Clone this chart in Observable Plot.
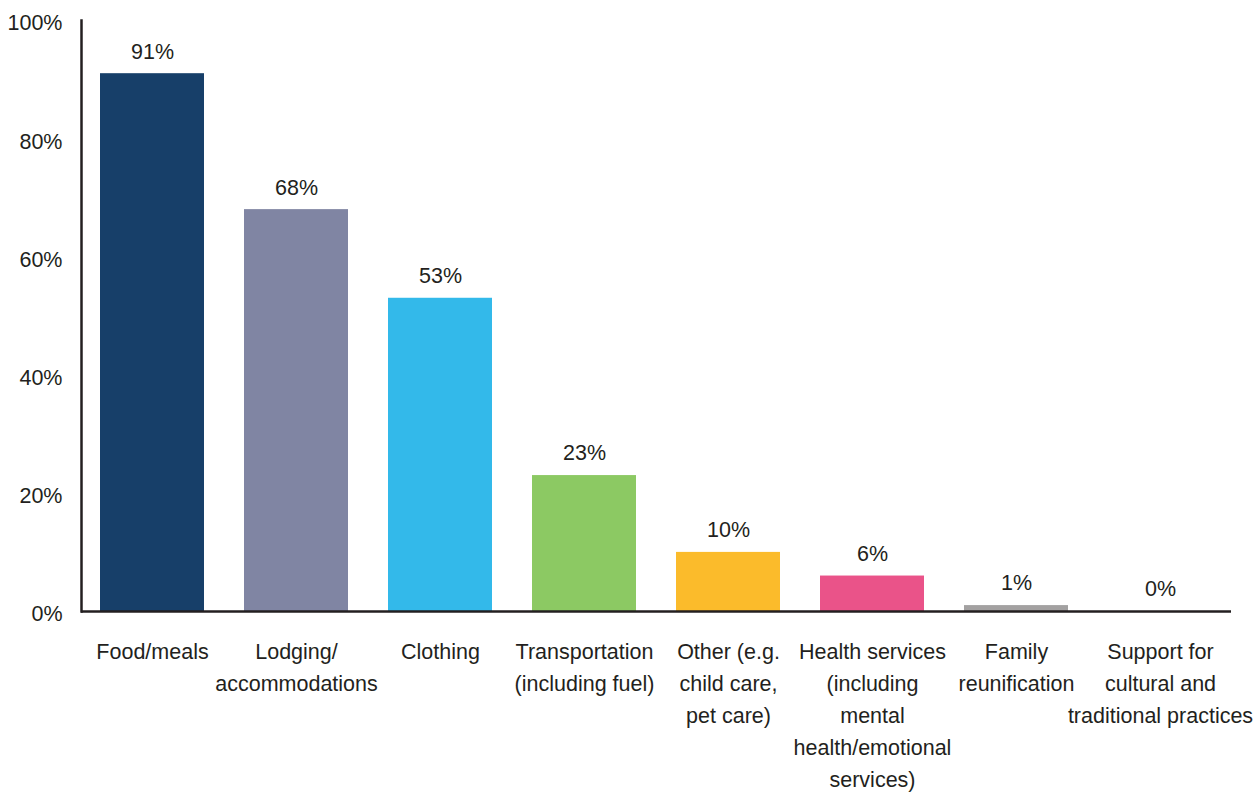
<!DOCTYPE html>
<html>
<head>
<meta charset="utf-8">
<script src="https://cdn.jsdelivr.net/npm/d3@7"></script>
<script src="https://cdn.jsdelivr.net/npm/@observablehq/plot@0.6"></script>
<style>
  html, body { margin: 0; padding: 0; background: #fff; }
  svg { font-family: "Liberation Sans", Arial, sans-serif; }
</style>
</head>
<body>
<div id="chart"></div>
<script>
const categories = [
  "Food/meals",
  "Lodging/accommodations",
  "Clothing",
  "Transportation (including fuel)",
  "Other (e.g. child care, pet care)",
  "Health services (including mental health/emotional services)",
  "Family reunification",
  "Support for cultural and traditional practices"
];
const tickLabels = [
  "Food/meals",
  "Lodging/\naccommodations",
  "Clothing",
  "Transportation\n(including fuel)",
  "Other (e.g.\nchild care,\npet care)",
  "Health services\n(including\nmental\nhealth/emotional\nservices)",
  "Family\nreunification",
  "Support for\ncultural and\ntraditional practices"
];
const values = [91, 68, 53, 23, 10, 6, 1, 0];
const colors = ["#173f69", "#8085a3", "#33b9ea", "#8cc963", "#fbbb2b", "#ea5389", "#a3a1a1", "#a3a1a1"];
const yTicks = [0, 20, 40, 60, 80, 100];

const data = categories.map((c, i) => ({category: c, value: values[i], color: colors[i], label: values[i] + "%"}));
const labelOf = new Map(categories.map((c, i) => [c, tickLabels[i]]));

const chart = Plot.plot({
  width: 1254,
  height: 793,
  marginLeft: 81,
  marginRight: 23,
  marginTop: 20,
  marginBottom: 182,
  style: {fontFamily: "'Liberation Sans', Arial, sans-serif", fontSize: "21px", color: "#231f20"},
  x: {domain: categories, paddingInner: 0.2765, paddingOuter: 0.125, align: 0.5},
  y: {domain: [0, 100]},
  marks: [
    Plot.barY(data, {x: "category", y: "value", fill: "color"}),
    Plot.text(data, {x: "category", y: "value", text: "label", dy: -22, fontSize: 21.5, fill: "#231f20"}),
    Plot.axisY({ticks: yTicks, tickSize: 0, tickPadding: 19, tickFormat: d => d + "%", fontSize: 21.5, dy: 3, label: null, fill: "#231f20"}),
    Plot.axisX({tickSize: 0, tickPadding: 25, tickFormat: d => labelOf.get(d), fontSize: 21.5, lineHeight: 1.49, label: null, fill: "#231f20"}),
    Plot.frame({anchor: "left", stroke: "#231f20", strokeWidth: 2.5}),
    Plot.ruleY([0], {stroke: "#231f20", strokeWidth: 2.5})
  ]
});
document.getElementById("chart").appendChild(chart);
</script>
</body>
</html>
